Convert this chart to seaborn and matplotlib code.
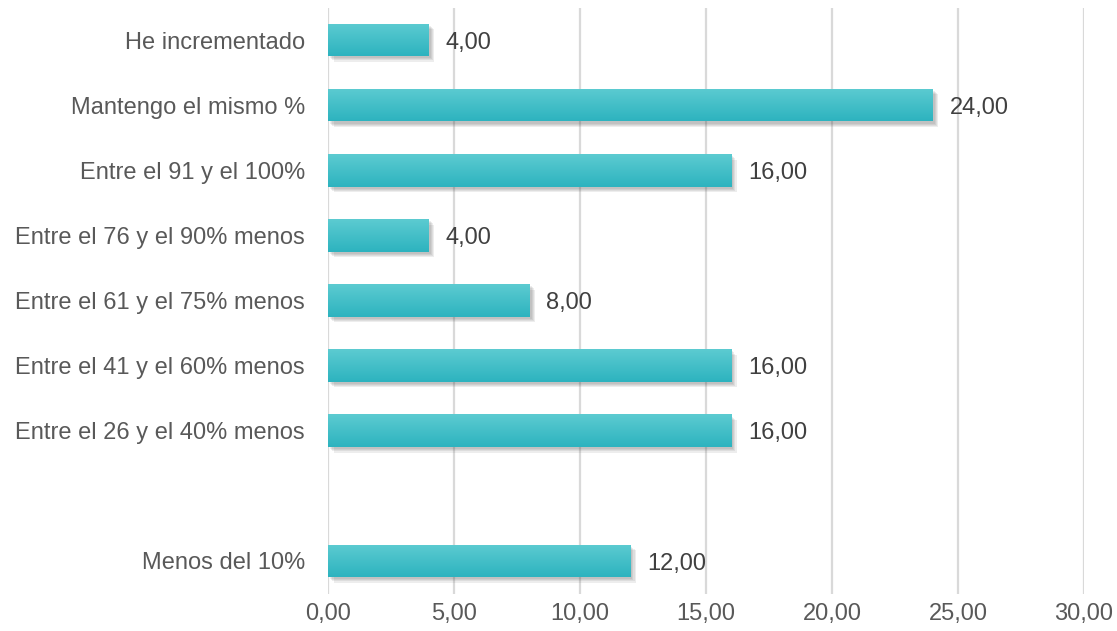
import numpy as np
import pandas as pd
import matplotlib.pyplot as plt
import matplotlib.patheffects as pe
from matplotlib.colors import LinearSegmentedColormap
import seaborn as sns

categorias = ['He incrementado', 'Mantengo el mismo %', 'Entre el 91 y el 100%',
              'Entre el 76 y el 90% menos', 'Entre el 61 y el 75% menos',
              'Entre el 41 y el 60% menos', 'Entre el 26 y el 40% menos',
              ' ', 'Menos del 10%']
valores = [4.0, 24.0, 16.0, 4.0, 8.0, 16.0, 16.0, np.nan, 12.0]
ticks_x = [0, 5, 10, 15, 20, 25, 30]

sns.set_style('white')
plt.rcParams['font.family'] = ['Liberation Sans', 'DejaVu Sans']

data = pd.DataFrame({'Categoria': categorias, 'Valor': valores})

fig = plt.figure(figsize=(11.17, 6.31), dpi=100)
ax = fig.add_axes([328 / 1117, 1 - 593.5 / 631, (1084 - 328) / 1117, 586 / 631])

sns.barplot(data=data, x='Valor', y='Categoria', order=categorias, orient='h',
            color='#45bfc8', width=0.5, ax=ax)

# degradado, sombra suave y etiqueta en cada barra
cmap = LinearSegmentedColormap.from_list('turq', ['#5ccbd1', '#2db3bf'])
grad = np.linspace(0, 1, 64).reshape(-1, 1)
sombra = [pe.SimplePatchShadow(offset=(d, -d), shadow_rgbFace='#404040', alpha=0.09)
          for d in (4, 3, 2.2, 1.5)]
for p in ax.patches:
    w = p.get_width()
    if np.isnan(w) or w == 0:
        continue
    x0, y0, h = p.get_x(), p.get_y(), p.get_height()
    p.set_edgecolor('none')
    p.set_path_effects(sombra + [pe.Normal()])
    im = ax.imshow(grad, cmap=cmap, aspect='auto', extent=[x0, x0 + w, y0 + h, y0],
                   zorder=p.get_zorder() + 0.1, interpolation='bicubic')
    im.set_clip_path(p)
    ax.annotate(f'{w:.2f}'.replace('.', ','), (x0 + w, y0 + h / 2),
                xytext=(12, -2), textcoords='offset points', va='center', ha='left',
                fontsize=17, color='#404040')

ax.set_xlim(0, 30)
ax.set_ylim(len(categorias) - 0.5, -0.5)
ax.set_xticks(ticks_x)
ax.set_xticklabels([f'{t:.2f}'.replace('.', ',') for t in ticks_x])

ax.grid(axis='x', color='#d9d9d9', linewidth=1.6)
ax.set_axisbelow(True)
for s in ax.spines.values():
    s.set_visible(False)
ax.tick_params(axis='both', length=0, labelsize=17, labelcolor='#595959')
ax.tick_params(axis='y', pad=16.5)
ax.tick_params(axis='x', pad=7)
ax.set_xlabel('')
ax.set_ylabel('')

plt.savefig('out.png', dpi=100)
